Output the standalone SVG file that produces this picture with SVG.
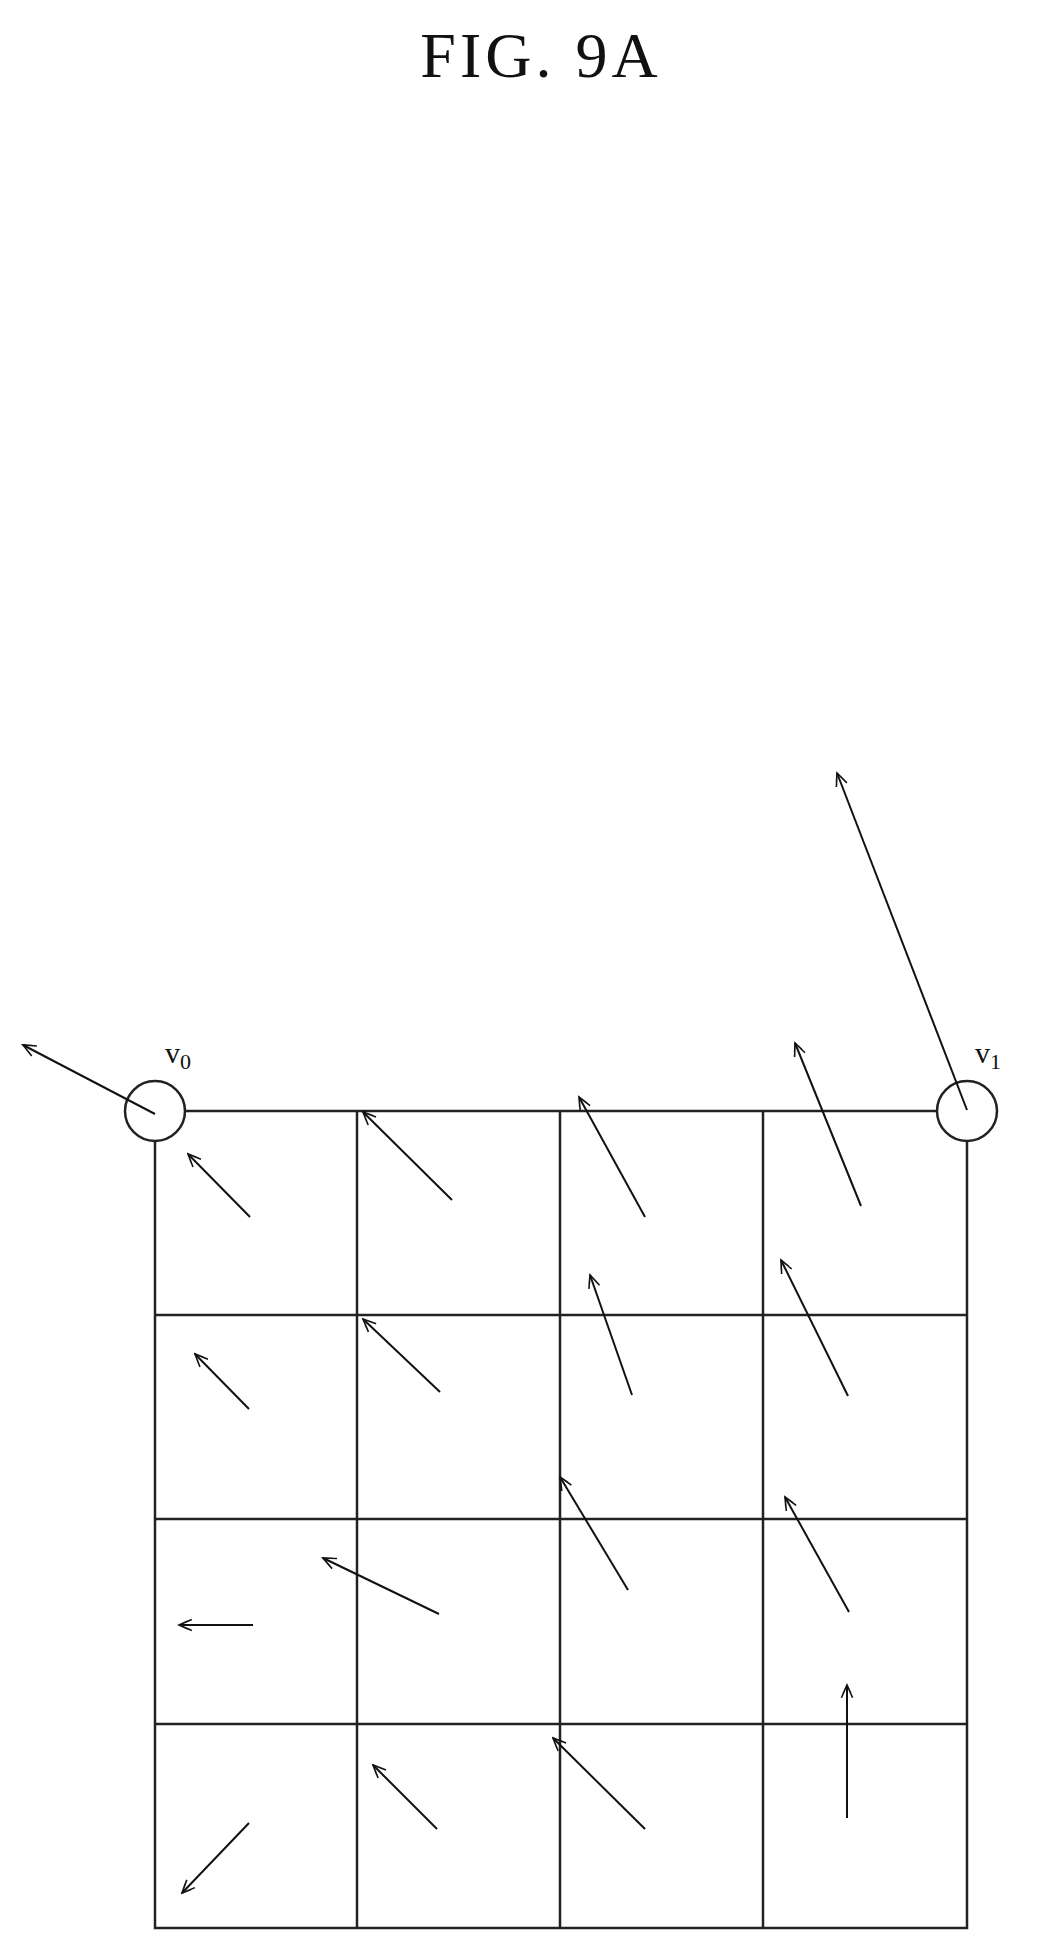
<svg xmlns="http://www.w3.org/2000/svg" width="1046" height="1957" viewBox="0 0 1046 1957">
<style>
.g{stroke:#222;stroke-width:2.5;fill:none}
.a{stroke:#111;stroke-width:2;fill:none;marker-end:url(#h)}
.t{font-family:"Liberation Serif",serif;fill:#111}
</style>
<defs>
<marker id="h" viewBox="0 0 20 20" refX="18" refY="10" markerWidth="16" markerHeight="16" markerUnits="userSpaceOnUse" orient="auto">
<path d="M2,3 L18,10 L2,17 M7,5 L18,10 L7,15" fill="none" stroke="#111" stroke-width="2"/>
</marker>
</defs>
<rect width="1046" height="1957" fill="#fff"/>
<text class="t" x="541" y="77" font-size="64" letter-spacing="4" text-anchor="middle">FIG. 9A</text>
<g id="grid">
<path class="g" d="M185,1111H937M155,1141V1928H967V1140M357,1111V1928M560,1111V1928M763,1111V1928M155,1315H967M155,1519H967M155,1724H967"/>
</g>
<g id="v0"><circle class="g" cx="155" cy="1111" r="30"/><text class="t" x="165" y="1063" font-size="30">v<tspan font-size="22" dy="6">0</tspan></text></g>
<g id="v1"><circle class="g" cx="967" cy="1111" r="30"/><text class="t" x="975" y="1063" font-size="30">v<tspan font-size="22" dy="6">1</tspan></text></g>
<g id="connectors">
<line class="a" x1="155" y1="1114" x2="23" y2="1045"/>
<line class="a" x1="967" y1="1110" x2="837" y2="773"/>
<line class="a" x1="250" y1="1217" x2="188" y2="1154"/>
<line class="a" x1="452" y1="1200" x2="363" y2="1112"/>
<line class="a" x1="645" y1="1217" x2="579" y2="1097"/>
<line class="a" x1="861" y1="1206" x2="795" y2="1043"/>
<line class="a" x1="249" y1="1409" x2="195" y2="1354"/>
<line class="a" x1="440" y1="1392" x2="363" y2="1319"/>
<line class="a" x1="632" y1="1395" x2="590" y2="1275"/>
<line class="a" x1="848" y1="1396" x2="781" y2="1260"/>
<line class="a" x1="253" y1="1625" x2="179" y2="1625"/>
<line class="a" x1="439" y1="1614" x2="323" y2="1558"/>
<line class="a" x1="628" y1="1590" x2="560" y2="1477"/>
<line class="a" x1="849" y1="1612" x2="785" y2="1497"/>
<line class="a" x1="249" y1="1823" x2="182" y2="1893"/>
<line class="a" x1="437" y1="1829" x2="373" y2="1765"/>
<line class="a" x1="645" y1="1829" x2="553" y2="1738"/>
<line class="a" x1="847" y1="1818" x2="847" y2="1685"/>
</g>
</svg>
